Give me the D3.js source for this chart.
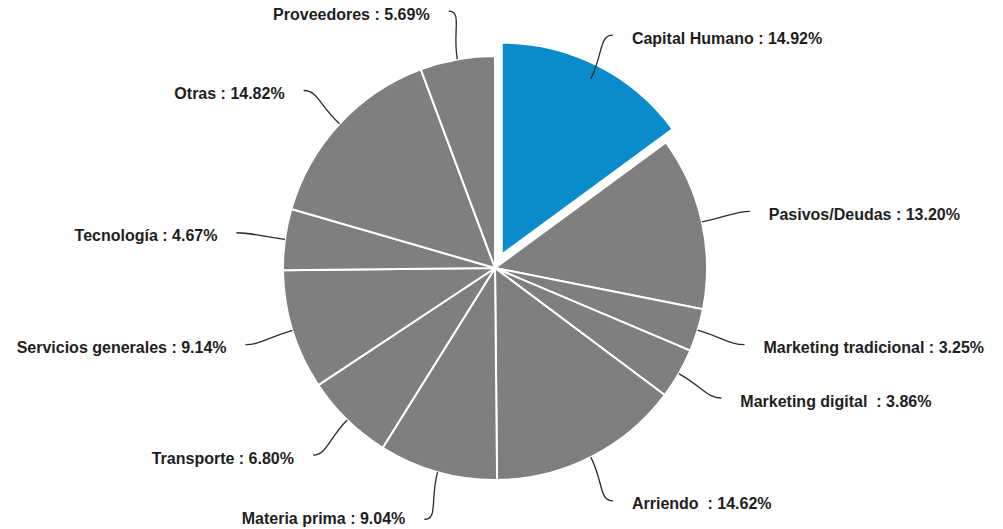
<!DOCTYPE html>
<meta charset="utf-8">
<head>
    <meta charset="utf-8">
    <title>Distribución de gastos</title>
    <script type="text/javascript" src="https://d3js.org/d3.v7.min.js"></script>
</head>

<style type="text/css">
    body {
        margin: 0;
        background-color: #ffffff;
    }

    .label {
        font-family: "Liberation Sans", Arial, Helvetica, sans-serif;
        font-weight: bold;
        font-size: 16px;
        fill: #1e1e1e;
        white-space: pre;
    }
</style>

<body>
    <div id="my_dataviz"></div>

    <script>
        // categories, clockwise from 12 o'clock
        const categories = [
            "Capital Humano", "Pasivos/Deudas", "Marketing tradicional", "Marketing digital ",
            "Arriendo ", "Materia prima", "Transporte", "Servicios generales",
            "Tecnología", "Otras", "Proveedores"
        ];
        // share of each category (%)
        const values = [14.92, 13.20, 3.25, 3.86, 14.62, 9.04, 6.80, 9.14, 4.67, 14.82, 5.69];
        // the slice pulled out of the pie
        const highlighted = ["Capital Humano"];

        const width = 1003, height = 529;
        const cx = 495, cy = 268;
        const radius = 212;
        const lineEnd = 261;     // where the connector lines stop
        const labelGap = 19;
        const explode = 15;

        const data = categories.map((c, i) => ({ name: c, value: values[i] }));

        const svg = d3.select("#my_dataviz")
            .append("svg")
            .attr("width", width)
            .attr("height", height)
            .append("g")
            .attr("transform", `translate(${cx},${cy})`);

        const pie = d3.pie()
            .sort(null)
            .value(d => d.value);

        const arc = d3.arc()
            .innerRadius(0)
            .outerRadius(radius);

        const arcs = pie(data);

        // color: highlighted slice in blue, the rest grey
        const color = d3.scaleOrdinal()
            .domain([true, false])
            .range(["#0a8ccc", "#7f7f7f"]);

        const mid = d => (d.startAngle + d.endAngle) / 2;
        const polar = (a, r) => [Math.sin(a) * r, -Math.cos(a) * r];

        // slices
        svg.append("g")
            .selectAll("path")
            .data(arcs)
            .join("path")
            .attr("d", arc)
            .attr("fill", d => color(highlighted.includes(d.data.name)))
            .attr("stroke", "#ffffff")
            .attr("stroke-width", 2)
            .attr("stroke-linejoin", "round")
            .attr("transform", d => {
                if (!highlighted.includes(d.data.name)) return null;
                const p = polar(mid(d), explode);
                return `translate(${p[0]},${p[1]})`;
            });

        // connector lines (curved)
        const connector = function (d) {
            const a = mid(d);
            const side = a < Math.PI ? 1 : -1;
            const p0 = polar(a, radius);
            const p1 = polar(a, radius + 28);
            const p3 = polar(a, lineEnd);
            const p2 = [p3[0] - side * 14, p3[1]];
            const path = d3.path();
            path.moveTo(p0[0], p0[1]);
            path.bezierCurveTo(p1[0], p1[1], p2[0], p2[1], p3[0], p3[1]);
            return path.toString();
        };

        svg.append("g")
            .selectAll("path")
            .data(arcs)
            .join("path")
            .attr("d", connector)
            .attr("fill", "none")
            .attr("stroke", "#2b2b2b")
            .attr("stroke-width", 1.3);

        // labels (kept inside the picture at the bottom)
        svg.append("g")
            .selectAll("text")
            .data(arcs)
            .join("text")
            .attr("class", "label")
            .attr("x", d => {
                const side = mid(d) < Math.PI ? 1 : -1;
                return polar(mid(d), lineEnd)[0] + side * labelGap;
            })
            .attr("y", d => Math.min(polar(mid(d), lineEnd)[1] + 3, height - cy - 11))
            .attr("dy", "0.35em")
            .attr("text-anchor", d => mid(d) < Math.PI ? "start" : "end")
            .text(d => `${d.data.name} : ${d.data.value.toFixed(2)}%`);
    </script>
</body>
</html>
